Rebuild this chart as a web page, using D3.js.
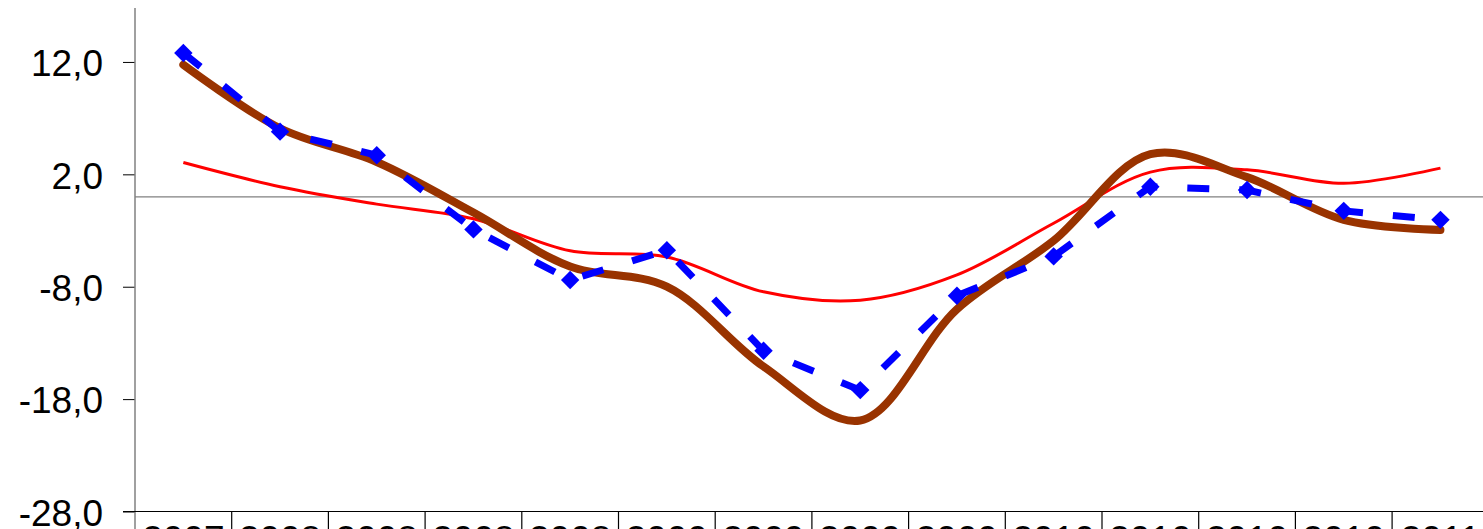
<!DOCTYPE html>
<html>
<head>
<meta charset="utf-8">
<script src="https://cdn.jsdelivr.net/npm/d3@7/dist/d3.min.js"></script>
<style>
  html, body { margin: 0; padding: 0; background: #fff; overflow: hidden; }
  svg { display: block; }
  text { font-family: "Liberation Sans", Arial, sans-serif; fill: #000; }
</style>
</head>
<body>
<svg id="chart" width="1483" height="529"></svg>
<script>
// ---- data ----
const categories = ["2007", "2008", "2008", "2008", "2008", "2009", "2009", "2009", "2009", "2010", "2010", "2010", "2010", "2011"];
const blueSeries  = [12.8, 5.8, 3.7, -2.9, -7.4, -4.75, -13.7, -17.2, -8.8, -5.3, 0.9, 0.6, -1.25, -2.05];
const brownSeries = [11.75, 6.1, 3.1, -1.4, -6.2, -8.0, -15.1, -19.9, -10.0, -3.9, 3.8, 1.75, -2.05, -2.95];
const redSeries   = [3.05, 0.9, -0.65, -1.95, -4.8, -5.35, -8.45, -9.2, -6.95, -2.35, 2.2, 2.4, 1.2, 2.55];
const yTicks = [12, 2, -8, -18, -28];
const refValue = 0;

// ---- layout ----
const svg = d3.select("#chart");
const plotLeft = 135, plotTop = 8, plotBottom = 511.5;
const catWidth = 96.7;

const x = d3.scaleBand()
  .domain(d3.range(categories.length))
  .range([plotLeft, plotLeft + catWidth * categories.length])
  .paddingInner(0).paddingOuter(0);
const xc = i => x(i) + x.bandwidth() / 2;

const y = d3.scaleLinear().domain([-28, 16.8]).range([plotBottom, plotTop]);

// reference (zero) line
svg.append("line")
  .attr("x1", plotLeft).attr("x2", 1483)
  .attr("y1", y(refValue)).attr("y2", y(refValue))
  .attr("stroke", "#808080").attr("stroke-width", 1.2);

// y axis
const fmt = d => d3.format(".1f")(d).replace(".", ",").replace("\u2212", "-");
const yAxis = d3.axisLeft(y).tickValues(yTicks)
  .tickFormat(fmt)
  .tickSize(12).tickPadding(20);
const gy = svg.append("g").attr("transform", `translate(${plotLeft},0)`).call(yAxis);
gy.select(".domain").remove();
gy.selectAll(".tick line").attr("stroke", "#000").attr("stroke-width", 1);
gy.selectAll(".tick text")
  .attr("font-size", 37)
  .attr("font-family", "Liberation Sans, Arial, sans-serif")
  .attr("dy", "0.37em");
svg.append("line")
  .attr("x1", plotLeft).attr("x2", plotLeft)
  .attr("y1", plotTop).attr("y2", 529)
  .attr("stroke", "#808080").attr("stroke-width", 1.5);

// x axis
svg.append("line")
  .attr("x1", plotLeft - 12).attr("x2", 1483)
  .attr("y1", plotBottom).attr("y2", plotBottom)
  .attr("stroke", "#000").attr("stroke-width", 1.2);
const gx = svg.append("g");
d3.range(1, categories.length).forEach(i => {
  gx.append("line")
    .attr("x1", x(i)).attr("x2", x(i))
    .attr("y1", plotBottom).attr("y2", 529)
    .attr("stroke", "#000").attr("stroke-width", 1.2);
});
gx.selectAll("text.cat").data(categories).enter().append("text")
  .attr("class", "cat")
  .attr("x", (d, i) => xc(i))
  .attr("y", plotBottom + 40)
  .attr("text-anchor", "middle")
  .attr("font-size", 37)
  .text(d => d);

// ---- series ----
const smooth = d3.line().x((d, i) => xc(i)).y(d => y(d)).curve(d3.curveCatmullRom.alpha(0.5));
const straight = d3.line().x((d, i) => xc(i)).y(d => y(d));

svg.append("path").datum(redSeries)
  .attr("d", smooth)
  .attr("fill", "none").attr("stroke", "#FF0000").attr("stroke-width", 3)
  .attr("stroke-linejoin", "round");

svg.append("path").datum(brownSeries)
  .attr("d", smooth)
  .attr("fill", "none").attr("stroke", "#993300").attr("stroke-width", 8)
  .attr("stroke-linecap", "round").attr("stroke-linejoin", "round");

svg.append("path").datum(blueSeries)
  .attr("d", straight)
  .attr("fill", "none").attr("stroke", "#0000FF").attr("stroke-width", 7)
  .attr("stroke-dasharray", "22,30");

const diamond = d3.symbol().type(d3.symbolSquare).size(170);
svg.selectAll("path.mk").data(blueSeries).enter().append("path")
  .attr("class", "mk")
  .attr("d", diamond)
  .attr("transform", (d, i) => `translate(${xc(i)},${y(d)}) rotate(45)`)
  .attr("fill", "#0000FF");
</script>
</body>
</html>
